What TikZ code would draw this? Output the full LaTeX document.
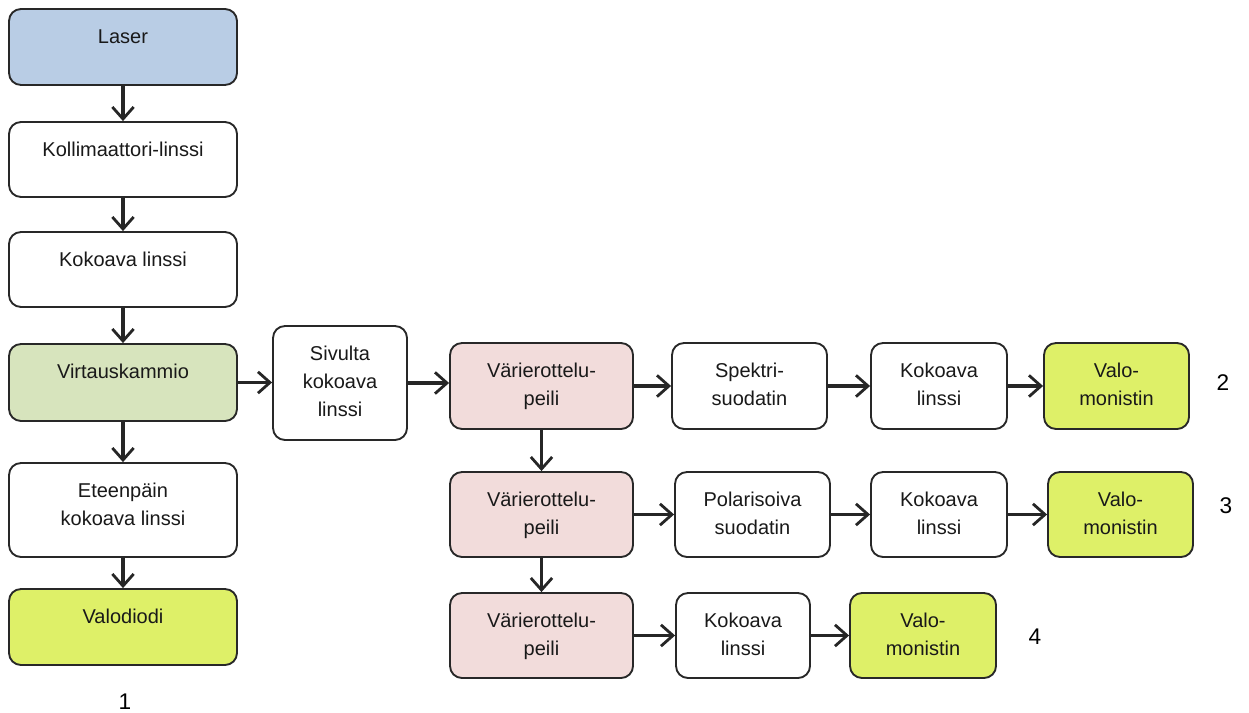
\documentclass[tikz,border=0pt]{standalone}
\usepackage{fontspec}
\setmainfont{Liberation Sans}
\usetikzlibrary{arrows.meta,fit,calc}
\definecolor{blueF}{RGB}{185,205,229}
\definecolor{greenF}{RGB}{215,228,189}
\definecolor{pinkF}{RGB}{242,220,219}
\definecolor{yelF}{RGB}{222,240,104}
\definecolor{edge}{RGB}{40,40,40}
\tikzset{
 box/.style={draw=edge, line width=1.4pt, rounded corners=9pt, inner sep=0pt},
 txt/.style={align=center, inner sep=0pt, font=\fontsize{15}{21}\selectfont, text=black!90},
 num/.style={inner sep=0pt, font=\fontsize{17}{20}\selectfont},
 arr/.style={draw=black!85, line width=2.3pt, -{Straight Barb[length=9pt,width=16pt,line width=2.1pt]}},
}
\newcommand\mybox[7]{%
  \node[box, fill=#6, fit={(#2,#3) (#4,#5)}] (#1) {};
  \node[txt, anchor=north] (#1-t) at ($(#1.north)+(0,21)$) {#7};
}
\begin{document}
\begin{tikzpicture}[x=0.75pt,y=-0.75pt]
\fill[white] (0,0) rectangle (1249,713);
\useasboundingbox (0,0) rectangle (1249,713);
% left column
\mybox{laser}{9}{9}{237}{85}{blueF}{Laser}
\mybox{koll}{9}{122}{237}{197}{white}{Kollimaattori-linssi}
\mybox{kok0}{9}{232}{237}{307}{white}{Kokoava linssi}
\mybox{virt}{9}{344}{237}{421}{greenF}{Virtauskammio}
\mybox{eteen}{9}{463}{237}{557}{white}{Eteenpäin\\kokoava linssi}
\mybox{diodi}{9}{589}{237}{665}{yelF}{Valodiodi}
\mybox{sivu}{273}{326}{407}{440}{white}{Sivulta\\kokoava\\linssi}
% row 1
\mybox{p1}{450}{343}{633}{429}{pinkF}{Värierottelu-\\peili}
\mybox{spek}{672}{343}{827}{429}{white}{Spektri-\\suodatin}
\mybox{kok1}{871}{343}{1007}{429}{white}{Kokoava\\linssi}
\mybox{valo1}{1044}{343}{1189}{429}{yelF}{Valo-\\monistin}
% row 2
\mybox{p2}{450}{472}{633}{557}{pinkF}{Värierottelu-\\peili}
\mybox{pol}{675}{472}{830}{557}{white}{Polarisoiva\\suodatin}
\mybox{kok2}{871}{472}{1007}{557}{white}{Kokoava\\linssi}
\mybox{valo2}{1048}{472}{1193}{557}{yelF}{Valo-\\monistin}
% row 3
\mybox{p3}{450}{593}{633}{678}{pinkF}{Värierottelu-\\peili}
\mybox{kok3}{676}{593}{810}{678}{white}{Kokoava\\linssi}
\mybox{valo3}{850}{593}{996}{678}{yelF}{Valo-\\monistin}
% numbers
\node[num] (n1) at (125,702) {1};
\node[num] (n2) at (1223,383) {2};
\node[num] (n3) at (1226,506) {3};
\node[num] (n4) at (1035,637) {4};
% connectors
\draw[arr] (laser) -- (koll);
\draw[arr] (koll) -- (kok0);
\draw[arr] (kok0) -- (virt);
\draw[arr] (virt) -- (eteen);
\draw[arr] (eteen) -- (diodi);
\draw[arr] (virt.east) -- (virt.east -| sivu.west);
\draw[arr] (sivu.east) -- (sivu.east -| p1.west);
\draw[arr] (p1) -- (spek);
\draw[arr] (spek) -- (kok1);
\draw[arr] (kok1) -- (valo1);
\draw[arr] (p1) -- (p2);
\draw[arr] (p2) -- (p3);
\draw[arr] (p2) -- (pol);
\draw[arr] (pol) -- (kok2);
\draw[arr] (kok2) -- (valo2);
\draw[arr] (p3) -- (kok3);
\draw[arr] (kok3) -- (valo3);
\end{tikzpicture}
\end{document}
